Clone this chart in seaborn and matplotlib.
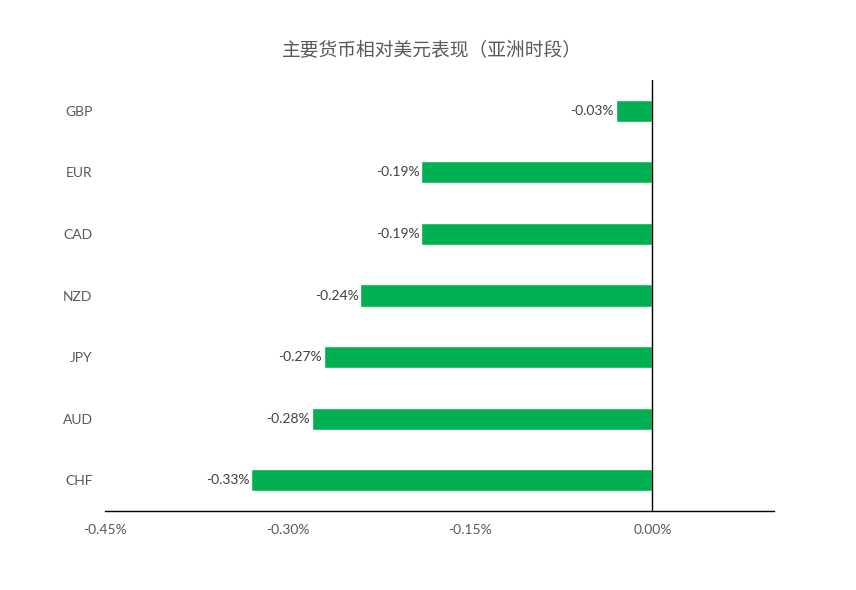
import matplotlib
matplotlib.use("Agg")
import matplotlib.pyplot as plt
import seaborn as sns
import pandas as pd
from matplotlib.ticker import FuncFormatter

currencies = ["GBP", "EUR", "CAD", "NZD", "JPY", "AUD", "CHF"]
values = [-0.03, -0.19, -0.19, -0.24, -0.27, -0.28, -0.33]
x_ticks = [-0.45, -0.30, -0.15, 0.00]
title = "主要货币相对美元表现（亚洲时段）"

sns.set_theme(style="white")
plt.rcParams["font.family"] = ["Lato", "Noto Sans CJK SC", "DejaVu Sans"]

df = pd.DataFrame({"currency": currencies, "value": values})

fig = plt.figure(figsize=(8.56, 5.90), dpi=100)
ax = fig.add_axes([105/856, 1-511/590, (774-105)/856, (511-80)/590])

sns.barplot(data=df, x="value", y="currency", orient="h", color="#00B050",
            width=0.36, ax=ax, saturation=1)

ax.set_xlim(-0.45, 0.10)
ax.set_ylim(6.5, -0.5)
ax.set_xticks(x_ticks)
ax.xaxis.set_major_formatter(FuncFormatter(lambda v, p: f"{v:.2f}%"))
ax.set_xlabel("")
ax.set_ylabel("")
ax.tick_params(axis="x", length=0, pad=9, labelsize=10, labelcolor="#595959")
ax.tick_params(axis="y", length=0, pad=9, labelsize=10, labelcolor="#595959")

for s in ["top", "right", "left"]:
    ax.spines[s].set_visible(False)
ax.spines["bottom"].set_color("black")
ax.spines["bottom"].set_linewidth(1.0)
ax.axvline(0, color="black", linewidth=1.0)

for i, v in enumerate(values):
    ax.text(v - 0.0015, i, f"{v:.2f}%", ha="right", va="center",
            fontsize=10, color="#404040")

fig.text(432/856, 1-50/590, title, ha="center", va="center", fontsize=13.5,
         color="#595959", family=["Noto Sans CJK SC", "DejaVu Sans"])

fig.savefig("out.png", dpi=100, facecolor="white")
